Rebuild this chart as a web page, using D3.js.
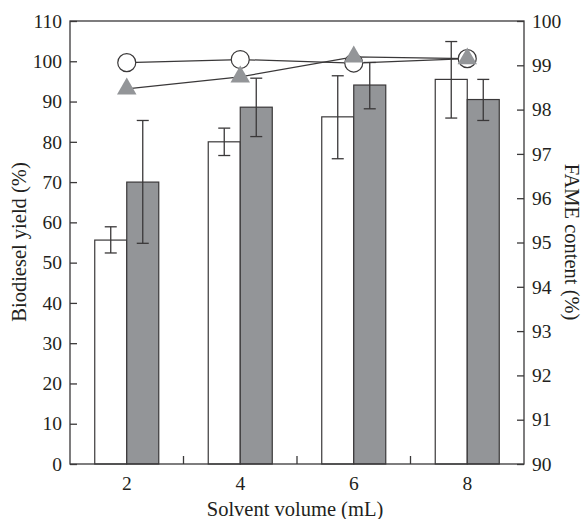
<!DOCTYPE html>
<html>
<head>
<meta charset="utf-8">
<script src="https://cdn.jsdelivr.net/npm/d3@7"></script>
<style>
  body { margin: 0; background: #fff; }
  svg text { font-family: "Liberation Serif", "DejaVu Serif", serif; fill: #231f20; }
</style>
</head>
<body>
<svg id="chart" width="583" height="519"></svg>
<script>
// solvent volumes (mL)
var volumes = ['2', '4', '6', '8'];

// biodiesel yield (%), left axis: white and gray bars
var yieldWhite = [55.6, 80.0, 86.2, 95.5],
    yieldWhiteErr = [[52.4, 58.9], [76.6, 83.4], [75.8, 96.4], [85.9, 104.9]],
    yieldGray = [70.0, 88.6, 94.1, 90.5],
    yieldGrayErr = [[54.8, 85.3], [81.3, 95.8], [88.2, 99.7], [85.3, 95.5]];

// FAME content (%), right axis
var fameCircle = [99.06, 99.13, 99.05, 99.15],
    fameTriangle = [98.47, 98.74, 99.19, 99.15];

var leftTicks = [0, 10, 20, 30, 40, 50, 60, 70, 80, 90, 100, 110],
    rightTicks = [90, 91, 92, 93, 94, 95, 96, 97, 98, 99, 100];

var svg = d3.select('#chart'),
    margin = { top: 21, right: 59, bottom: 55, left: 70 },
    W = 583 - margin.left - margin.right,
    H = 519 - margin.top - margin.bottom,
    ink = '#3a3839',
    grayFill = '#939598';

var g = svg.append('g').attr('transform', 'translate(' + margin.left + ',' + margin.top + ')');

var x = d3.scaleBand().domain(volumes).range([0, W]).padding(0),
    yL = d3.scaleLinear().domain([0, 110]).range([H, 0]),
    yR = d3.scaleLinear().domain([90, 100]).range([H, 0]);

var barW = x.bandwidth() * 0.282;

// bars
function drawBars(vals, errs, fill, offset) {
    var grp = g.append('g');
    grp.selectAll('rect').data(vals).enter().append('rect')
        .attr('x', (d, i) => x(volumes[i]) + x.bandwidth() / 2 + offset)
        .attr('y', d => yL(d))
        .attr('width', barW)
        .attr('height', d => H - yL(d))
        .attr('fill', fill)
        .attr('stroke', ink)
        .attr('stroke-width', 1.2);
    var eb = grp.selectAll('g.err').data(errs).enter().append('g').attr('class', 'err')
        .attr('stroke', ink).attr('stroke-width', 1.3);
    var cx = (d, i) => x(volumes[i]) + x.bandwidth() / 2 + offset + barW / 2;
    eb.append('line').attr('x1', cx).attr('x2', cx)
        .attr('y1', d => yL(d[0])).attr('y2', d => yL(d[1]));
    eb.append('line').attr('x1', (d, i) => cx(d, i) - 6).attr('x2', (d, i) => cx(d, i) + 6)
        .attr('y1', d => yL(d[0])).attr('y2', d => yL(d[0]));
    eb.append('line').attr('x1', (d, i) => cx(d, i) - 6).attr('x2', (d, i) => cx(d, i) + 6)
        .attr('y1', d => yL(d[1])).attr('y2', d => yL(d[1]));
}
drawBars(yieldWhite, yieldWhiteErr, '#fff', -barW);
drawBars(yieldGray, yieldGrayErr, grayFill, 0);

// frame and axes
g.append('rect').attr('width', W).attr('height', H)
    .attr('fill', 'none').attr('stroke', ink).attr('stroke-width', 1.3);

var axL = g.append('g').call(d3.axisLeft(yL).tickValues(leftTicks).tickSize(-7).tickPadding(8));
var axR = g.append('g').attr('transform', 'translate(' + W + ',0)')
    .call(d3.axisRight(yR).tickValues(rightTicks).tickSize(-7).tickPadding(8));
var axB = g.append('g').attr('transform', 'translate(0,' + H + ')')
    .call(d3.axisBottom(x).tickSize(0).tickPadding(12));

[axL, axR, axB].forEach(function (a) {
    a.select('.domain').remove();
    a.selectAll('line').attr('stroke', ink).attr('stroke-width', 1.3);
    a.selectAll('text').attr('font-size', 19.5).attr('fill', '#231f20')
        .attr('font-family', '"Liberation Serif", serif');
});

// inner tick marks between categories
g.append('g').selectAll('line').data(volumes.slice(1)).enter().append('line')
    .attr('x1', d => x(d)).attr('x2', d => x(d))
    .attr('y1', H).attr('y2', H - 8)
    .attr('stroke', ink).attr('stroke-width', 1.3);

// FAME lines
var line = d3.line().x((d, i) => x(volumes[i]) + x.bandwidth() / 2).y(d => yR(d));
g.append('path').datum(fameTriangle).attr('d', line)
    .attr('fill', 'none').attr('stroke', ink).attr('stroke-width', 1.2);
g.append('path').datum(fameCircle).attr('d', line)
    .attr('fill', 'none').attr('stroke', ink).attr('stroke-width', 1.2);

g.append('g').selectAll('circle').data(fameCircle).enter().append('circle')
    .attr('cx', (d, i) => x(volumes[i]) + x.bandwidth() / 2)
    .attr('cy', d => yR(d))
    .attr('r', 9)
    .attr('fill', '#fff').attr('stroke', ink).attr('stroke-width', 1.2);

var tri = d3.symbol().type(d3.symbolTriangle).size(165);
g.append('g').selectAll('path').data(fameTriangle).enter().append('path')
    .attr('d', tri)
    .attr('transform', (d, i) => 'translate(' + (x(volumes[i]) + x.bandwidth() / 2) + ',' + yR(d) + ')')
    .attr('fill', grayFill);

// titles
svg.append('text').attr('x', margin.left + W / 2 - 2).attr('y', 516)
    .attr('text-anchor', 'middle').attr('font-size', 20.5)
    .text('Solvent volume (mL)');
svg.append('text').attr('transform', 'translate(26,242) rotate(-90)')
    .attr('text-anchor', 'middle').attr('font-size', 20.5)
    .text('Biodiesel yield (%)');
svg.append('text').attr('transform', 'translate(565,242) rotate(90)')
    .attr('text-anchor', 'middle').attr('font-size', 20.5)
    .text('FAME content (%)');
</script>
</body>
</html>
